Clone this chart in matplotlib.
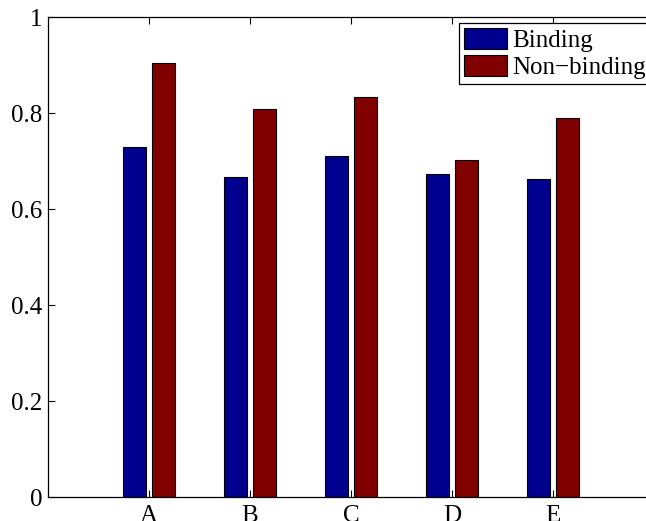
import matplotlib
matplotlib.use("Agg")
import matplotlib.pyplot as plt
import numpy as np

categories = ["A", "B", "C", "D", "E"]
binding = [0.729, 0.666, 0.710, 0.673, 0.662]
non_binding = [0.904, 0.808, 0.833, 0.703, 0.790]
yticks = [0, 0.2, 0.4, 0.6, 0.8, 1]
ytick_labels = ["0", "0.2", "0.4", "0.6", "0.8", "1"]

plt.rcParams['font.family'] = ['Liberation Serif', 'DejaVu Serif']
plt.rcParams['savefig.bbox'] = 'standard'

fig = plt.figure(figsize=(6.46, 5.21), dpi=100)
ax = fig.add_axes([48/646, 24/521, 606/646, 480/521])

x = np.arange(1, len(categories) + 1)
off = 0.143
w = 0.229
ax.bar(x - off, binding, width=w, color="#00008F", edgecolor="black", linewidth=0.8, label="Binding")
ax.bar(x + off, non_binding, width=w, color="#800000", edgecolor="black", linewidth=0.8, label="Non\u2212binding")

ax.set_xlim(0, 6)
ax.set_ylim(0, 1)
ax.set_xticks(x)
ax.set_xticklabels(categories)
ax.set_yticks(yticks)
ax.set_yticklabels(ytick_labels)
ax.tick_params(direction="in", top=True, right=False, length=5, width=0.8, labelsize=18, colors="black")
ax.tick_params(axis="y", pad=4)
ax.tick_params(axis="x", pad=6)
for s in ax.spines.values():
    s.set_linewidth(0.9)
ax.spines["right"].set_visible(False)

leg = ax.legend(loc="upper left", bbox_to_anchor=(459/646, 1 - 23/521), bbox_transform=fig.transFigure,
                fontsize=18, frameon=True, fancybox=False, edgecolor="black", framealpha=1,
                handlelength=1.72, handleheight=0.92, handletextpad=0.2, labelspacing=0.1,
                borderpad=0.2, borderaxespad=0)
leg.get_frame().set_linewidth(0.9)

fig.savefig("out.png", dpi=100)
